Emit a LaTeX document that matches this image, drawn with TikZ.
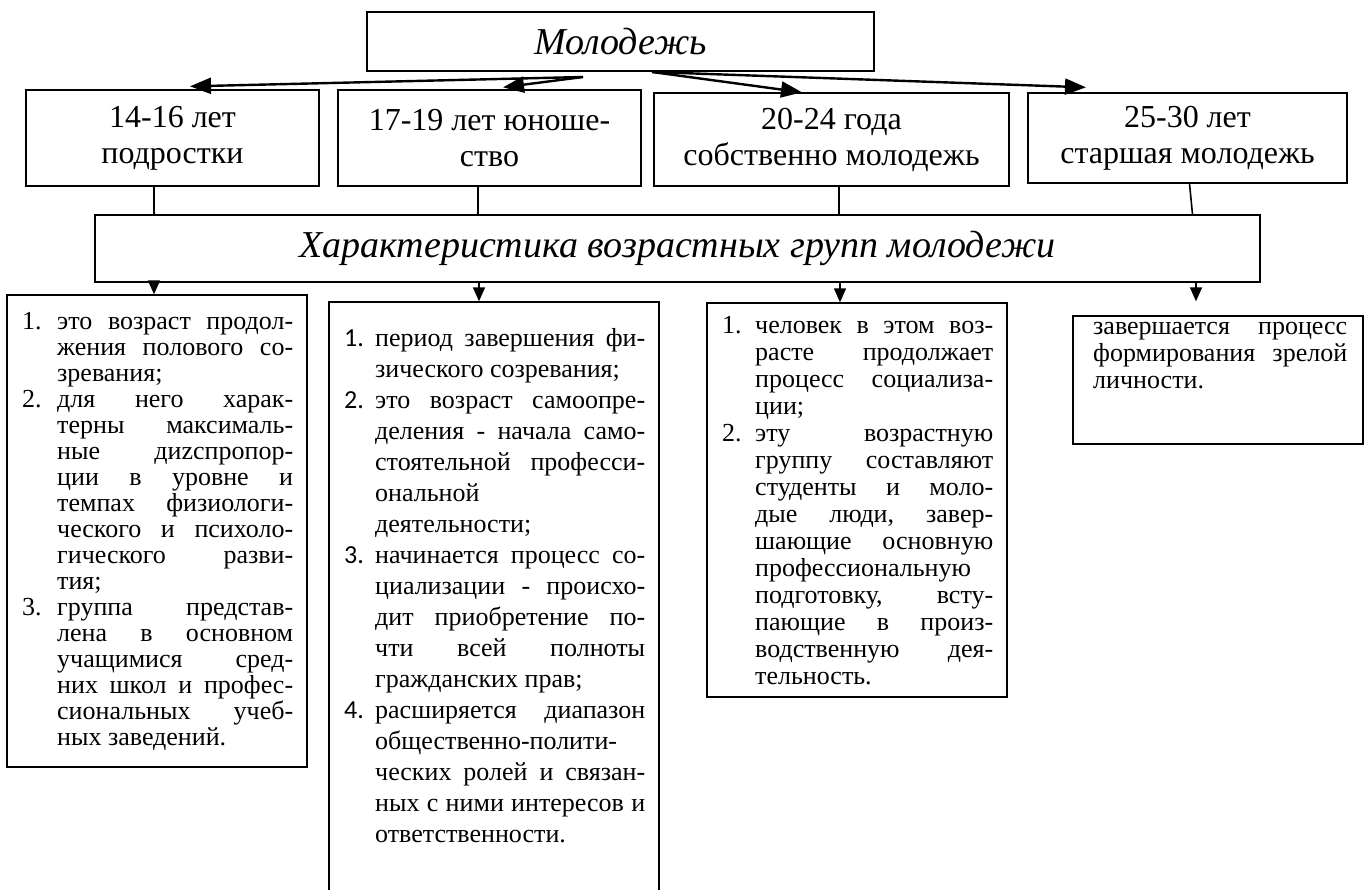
\documentclass[tikz,border=0pt]{standalone}
\usepackage{fontspec}
\setmainfont{Liberation Serif}
\newfontfamily\numfont{Carlito}
\usetikzlibrary{arrows.meta,calc}

% width of a text column and of its hanging number
\newlength\colw
\newlength\numw
% a justified line (spaces share the free room) and a paragraph-final ragged line
\newcommand\jline[2]{\hbox to \colw{\spaceskip=.25em plus 1fil\relax\hbox to \numw{#1\hss}#2}}
\newcommand\eline[2]{\hbox to \colw{\spaceskip=.25em\relax\hbox to \numw{#1\hss}#2\hfill}}

\tikzset{
  frame/.style 2 args={draw, line width=1.3pt, inner sep=0pt,
    minimum width=#1, minimum height=#2},
  hd/.style={font=\fontsize{32}{36}\selectfont, align=center},
  ttl/.style={font=\fontsize{38}{42}\selectfont\itshape},
  coltext/.style={inner sep=0pt, font=\fontsize{26}{26}\selectfont\frenchspacing},
  toparr/.style={line width=2.4pt, -{Triangle[length=21pt,width=16pt]}},
  stub/.style={line width=1.6pt},
  botarr/.style={line width=1.6pt, -{Triangle[length=14pt,width=12pt]}}
}

\begin{document}
\begin{tikzpicture}[x=1pt,y=-1pt]
\clip (0,0) rectangle (1368,890);
\fill[white] (0,0) rectangle (1368,890);

% title and age groups
\node[frame={507pt}{59pt}, ttl] (top) at (620.5,41.5) {Молодежь};
\node[frame={293pt}{96pt}, hd] (g1) at (172.5,138) {14-16 лет\\подростки};
\node[frame={303pt}{96pt}, hd] (g2) at (489.5,138) {17-19 лет юноше-\\ство};
\node[frame={355pt}{93pt}, hd] (g3) at (831.5,139.5) {20-24 года\\собственно молодежь};
\node[frame={319pt}{90pt}, hd] (g4) at (1187.5,138) {25-30 лет\\старшая молодежь};

% common heading
\node[frame={1165pt}{67pt}, ttl] (char) at (677.5,248.5) {Характеристика возрастных групп молодежи};

% description boxes
\node[frame={300pt}{472pt}] (c1) at (157,531) {};
\node[frame={330pt}{598pt}] (c2) at (494,601) {};
\node[frame={300pt}{394pt}] (c3) at (857,500) {};
\node[frame={290pt}{128pt}] (c4) at (1218,380) {};

% arrows from the title to the age groups
\coordinate (mL) at (583,77);
\coordinate (mR) at (652,72);
\draw[toparr] (mL) -- ([xshift=17.5pt,yshift=3pt]g1.north);
\draw[toparr] (mL) -- ([xshift=13.5pt,yshift=2pt]g2.north);
\draw[toparr] (mR) -- ([xshift=-29.5pt]g3.north);
\draw[toparr] (mR) -- ([xshift=-101.5pt,yshift=5pt]g4.north);

% stubs from the age groups down to the heading
\coordinate (s1) at ([xshift=-18.5pt]g1.south);
\coordinate (s2) at ([xshift=-11.5pt]g2.south);
\coordinate (s3) at ([xshift=7.5pt]g3.south);
\coordinate (s4) at ([xshift=2pt]g4.south);
\draw[stub] (s1) -- (s1 |- char.north);
\draw[stub] (s2) -- (s2 |- char.north);
\draw[stub] (s3) -- (s3 |- char.north);
\draw[stub] (s4) -- ([xshift=3pt]s4 |- char.north);

% arrows from the heading to the descriptions
\draw[botarr] (char.south -| s1) -- (c1.north -| s1);
\draw[botarr] ([xshift=1pt]char.south -| s2) -- ([xshift=1pt]c2.north -| s2);
\draw[botarr] ([xshift=1pt]char.south -| s3) -- ([xshift=1pt]c3.north -| s3);
\draw[botarr, shorten >=14pt] ([xshift=6.5pt]char.south -| s4) -- ([xshift=6.5pt]c4.north -| s4);

% texts of the descriptions
\node[coltext, text width=271pt, anchor=base west] (t1) at (22,330) {%
\setlength\colw{271pt}\setlength\numw{35pt}%
\jline{1.}{это возраст продол-}
\jline{}{жения полового со-}
\eline{}{зревания;}
\jline{2.}{для него харак-}
\jline{}{терны максималь-}
\jline{}{ные диzспропор-}
\jline{}{ции в уровне и}
\jline{}{темпах физиологи-}
\jline{}{ческого и психоло-}
\jline{}{гического разви-}
\eline{}{тия;}
\jline{3.}{группа представ-}
\jline{}{лена в основном}
\jline{}{учащимися сред-}
\jline{}{них школ и профес-}
\jline{}{сиональных учеб-}
\eline{}{ных заведений.}};

\node[coltext, font=\fontsize{26}{31}\selectfont\frenchspacing, text width=301pt, anchor=base west] (t2) at (344,347) {%
\setlength\colw{301pt}\setlength\numw{31pt}%
\jline{\numfont 1.}{период завершения фи-}
\eline{}{зического созревания;}
\jline{\numfont 2.}{это возраст самоопре-}
\jline{}{деления - начала само-}
\jline{}{стоятельной професси-}
\eline{}{ональной}
\eline{}{деятельности;}
\jline{\numfont 3.}{начинается процесс со-}
\jline{}{циализации - происхо-}
\jline{}{дит приобретение по-}
\jline{}{чти всей полноты}
\eline{}{гражданских прав;}
\jline{\numfont 4.}{расширяется диапазон}
\eline{}{общественно-полити-}
\jline{}{ческих ролей и связан-}
\jline{}{ных с ними интересов и}
\eline{}{ответственности.}};

\node[coltext, font=\fontsize{26}{27}\selectfont\frenchspacing, text width=271pt, anchor=base west] (t3) at (722,334) {%
\setlength\colw{271pt}\setlength\numw{33pt}%
\jline{1.}{человек в этом воз-}
\jline{}{расте продолжает}
\jline{}{процесс социализа-}
\eline{}{ции;}
\jline{2.}{эту возрастную}
\jline{}{группу составляют}
\jline{}{студенты и моло-}
\jline{}{дые люди, завер-}
\jline{}{шающие основную}
\jline{}{профессиональную}
\jline{}{подготовку, всту-}
\jline{}{пающие в произ-}
\jline{}{водственную дея-}
\eline{}{тельность.}};

\node[coltext, font=\fontsize{26}{27}\selectfont\frenchspacing, text width=254pt, anchor=base west] (t4) at (1093,335) {%
\setlength\colw{254pt}\setlength\numw{0pt}%
\jline{}{завершается процесс}
\jline{}{формирования зрелой}
\eline{}{личности.}};
\end{tikzpicture}
\end{document}
